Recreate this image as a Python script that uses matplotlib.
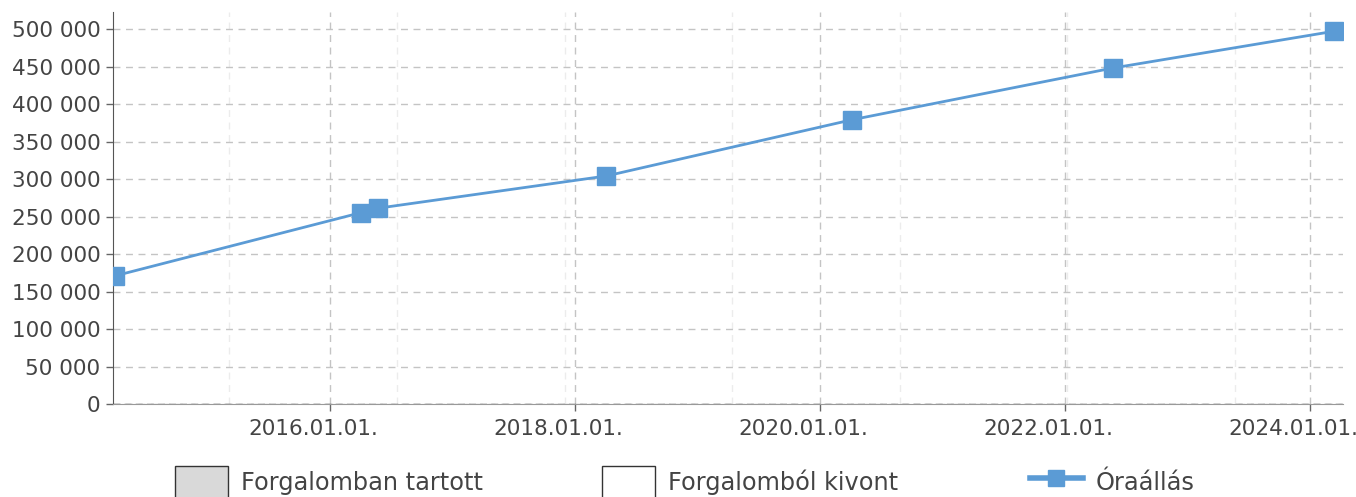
import matplotlib
matplotlib.use("Agg")
import matplotlib.pyplot as plt
import matplotlib.dates as mdates
import matplotlib.transforms as mtransforms
from matplotlib.patches import Patch
from matplotlib.lines import Line2D
from matplotlib.ticker import FuncFormatter
import datetime as dt

# Data
dates = ["2014-04-01", "2016-04-01", "2016-05-22", "2018-04-03",
         "2020-04-05", "2022-05-23", "2024-03-12"]
hours = [171000, 255000, 261000, 304000, 379000, 448000, 497000]
major_ticks = ["2016-01-01", "2018-01-01", "2020-01-01", "2022-01-01", "2024-01-01"]
minor_ticks = ["2015-03-06", "2016-07-19", "2017-12-01", "2019-04-14",
               "2020-08-26", "2022-01-07", "2023-05-22"]
legend_labels = ["Forgalomban tartott", "Forgalomból kivont", "Óraállás"]

def to_dt(s):
    return dt.datetime.strptime(s, "%Y-%m-%d")

x = [to_dt(d) for d in dates]

plt.rcParams['font.family'] = ['DejaVu Sans']
text_color = "#444444"
blue = "#5b9bd5"

fig = plt.figure(figsize=(13.56, 4.97), dpi=100)
ax = fig.add_axes([113/1356, 1 - 404/497, (1343-113)/1356, (404-12)/497])

ax.plot(x, hours, color=blue, lw=2, marker="s", markersize=13,
        markeredgecolor=blue, zorder=5, clip_on=True)

ax.set_xlim(to_dt("2014-03-25"), to_dt("2024-04-08"))
ax.set_ylim(0, 522700)

ax.set_xticks([to_dt(d) for d in major_ticks])
ax.set_xticks([to_dt(d) for d in minor_ticks], minor=True)
ax.xaxis.set_major_formatter(mdates.DateFormatter("%Y.%m.%d."))
ax.set_yticks(range(0, 500001, 50000))
ax.yaxis.set_major_formatter(FuncFormatter(lambda v, p: f"{int(v):,}".replace(",", " ")))

ax.tick_params(axis="both", which="major", labelsize=15.5, colors="#666666",
               labelcolor=text_color, length=5, width=1)
ax.tick_params(axis="y", pad=4)
ax.tick_params(axis="x", which="minor", length=0)
ax.tick_params(axis="x", pad=6)

# shift x tick labels slightly left, as in the reference
offset = mtransforms.ScaledTranslation(-17/100, 0, fig.dpi_scale_trans)
for lbl in ax.get_xticklabels():
    lbl.set_transform(lbl.get_transform() + offset)

ax.grid(True, axis="y", which="major", color="#c4c4c4", ls=(0, (5, 4)), lw=1)
ax.grid(True, axis="x", which="major", color="#c4c4c4", ls=(0, (5, 4)), lw=1)
ax.grid(True, axis="x", which="minor", color="#ececec", ls=(0, (5, 4)), lw=1)
ax.set_axisbelow(True)

for s in ["top", "right"]:
    ax.spines[s].set_visible(False)
ax.spines["left"].set_color("#555555")
ax.spines["bottom"].set_color("#999999")
ax.axhline(0, color="#555555", ls=(0, (5, 3)), lw=1, zorder=3)

# Legend entries
handles = [
    Patch(facecolor="#d9d9d9", edgecolor="#333333", lw=1),
    Patch(facecolor="white", edgecolor="#333333", lw=1),
    Line2D([0], [0], color=blue, lw=4, marker="s", markersize=11, markeredgecolor=blue),
]
xpos = [175, 602, 1030]
for h, lab, xp in zip(handles, legend_labels, xpos):
    leg = fig.legend([h], [lab], loc="upper left",
                     bbox_to_anchor=(xp/1356, 1 - 466/497), frameon=False,
                     fontsize=17.3, handlelength=2.2, handleheight=1.7,
                     handletextpad=0.55, borderpad=0, borderaxespad=0,
                     labelcolor=text_color)

fig.savefig("out.png", dpi=100)
